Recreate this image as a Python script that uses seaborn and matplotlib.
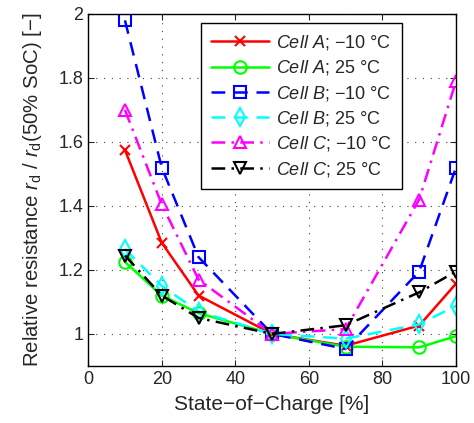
import matplotlib
matplotlib.use("Agg")
import matplotlib.pyplot as plt
import seaborn as sns
import pandas as pd

soc = [10, 20, 30, 50, 70, 90, 100]
cellA_m10 = [1.575, 1.285, 1.12, 1.0, 0.963, 1.026, 1.157]
cellA_25 = [1.225, 1.12, 1.065, 1.0, 0.96, 0.958, 0.993]
cellB_m10 = [1.98, 1.52, 1.24, 1.0, 0.953, 1.195, 1.52]
cellB_25 = [1.265, 1.15, 1.07, 1.0, 0.985, 1.03, 1.088]
cellC_m10 = [1.70, 1.405, 1.17, 1.0, 1.015, 1.42, 1.79]
cellC_25 = [1.245, 1.12, 1.05, 1.0, 1.027, 1.13, 1.195]

labels = [r"$\it{Cell\ A}$; −10 °C", r"$\it{Cell\ A}$; 25 °C",
          r"$\it{Cell\ B}$; −10 °C", r"$\it{Cell\ B}$; 25 °C",
          r"$\it{Cell\ C}$; −10 °C", r"$\it{Cell\ C}$; 25 °C"]
series = [cellA_m10, cellA_25, cellB_m10, cellB_25, cellC_m10, cellC_25]
colors = ["#ff0000", "#00ff00", "#0000ff", "#00ffff", "#ff00ff", "#000000"]
markers = ["x", "o", "s", "d", "^", "v"]
styles = ["-", "-", (0, (5.5, 3.5)), (0, (5.5, 3.5)), (0, (5.5, 2.5, 1, 2.5)), (0, (5.5, 2.5, 1, 2.5))]

sns.set_style("ticks")
plt.rcParams["font.family"] = ["Liberation Sans", "DejaVu Sans"]
plt.rcParams["mathtext.fontset"] = "custom"
plt.rcParams["mathtext.rm"] = "Liberation Sans"
plt.rcParams["mathtext.it"] = "Liberation Sans:italic"

fig = plt.figure(figsize=(4.74, 4.23), dpi=100)
ax = fig.add_axes([0.186, 0.135, 0.776, 0.832])

for y, lab, c, m, ls in zip(series, labels, colors, markers, styles):
    df = pd.DataFrame({"soc": soc, "r": y})
    sns.lineplot(data=df, x="soc", y="r", ax=ax, color=c, marker=m, linestyle=ls,
                 linewidth=1.8, markersize=9 if m != "x" else 7, markerfacecolor="none",
                 markeredgecolor=c, markeredgewidth=1.5, label=lab)

ax.set_xlim(0, 100)
ax.set_ylim(0.9, 2.0)
ax.set_xticks([0, 20, 40, 60, 80, 100])
ax.set_yticks([1, 1.2, 1.4, 1.6, 1.8, 2])
ax.set_yticklabels(["1", "1.2", "1.4", "1.6", "1.8", "2"])
ax.grid(True, linestyle=(0, (1, 6)), color="#444444", linewidth=0.8)
ax.tick_params(direction="in", top=True, right=True, labelsize=13, length=4, width=0.8)
for s in ax.spines.values():
    s.set_linewidth(1.0)
    s.set_color("black")
ax.set_xlabel("State−of−Charge [%]", fontsize=15, labelpad=5)
ax.set_ylabel(r"Relative resistance $r_\mathrm{d}$ / $r_\mathrm{d}$(50% SoC) [−]",
              fontsize=14.7, labelpad=10)

leg = ax.legend(loc="upper right", bbox_to_anchor=(0.853, 0.974), borderaxespad=0,
                fontsize=13, handlelength=3.2, numpoints=1, frameon=True, fancybox=False,
                edgecolor="black", borderpad=0.55, labelspacing=0.35, handletextpad=0.4)
leg.get_frame().set_linewidth(1.0)
leg.get_frame().set_alpha(1)

fig.savefig("out.png", dpi=100)
